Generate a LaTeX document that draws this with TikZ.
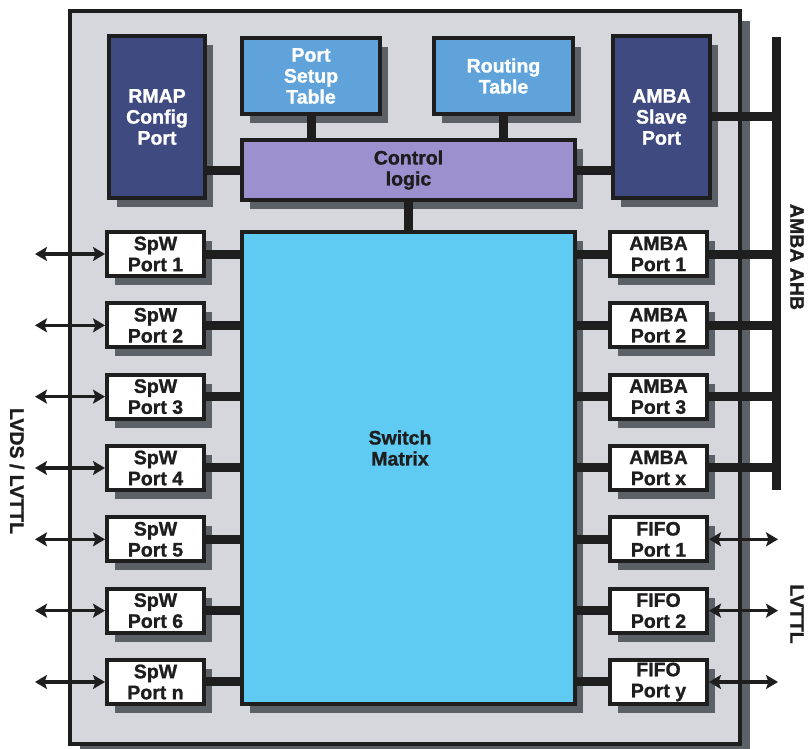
\documentclass[tikz,border=0pt]{standalone}
\usepackage{fontspec}
\setmainfont{Liberation Sans}[BoldFeatures={FakeBold=1.2}]
\usetikzlibrary{arrows.meta,shadows}
\definecolor{chipgray}{HTML}{D5D7DD}
\definecolor{shadegray}{HTML}{5C6168}
\definecolor{navy}{HTML}{3F4A80}
\definecolor{tableblue}{HTML}{5FA3DA}
\definecolor{lavender}{HTML}{9D90CF}
\definecolor{skyblue}{HTML}{5FCBF2}
\definecolor{inkblack}{HTML}{1E1E1E}
\begin{document}
\begin{tikzpicture}[x=1pt, y=-1pt,
  font=\fontsize{19.5}{21}\selectfont\bfseries, text=inkblack,
  blk/.style={draw=inkblack, line width=4pt, align=center, inner sep=0pt},
  shade/.style={drop shadow={shadow xshift=8pt, shadow yshift=-9pt, fill=shadegray, opacity=1}},
  port/.style={blk, shade, fill=white, minimum width=97pt, minimum height=44pt},
  bar/.style={draw=inkblack, line width=9pt},
  sig/.style={draw=inkblack, line width=3.5pt,
    {Stealth[length=12pt,width=14pt,inset=2.5pt]}-{Stealth[length=12pt,width=14pt,inset=2.5pt]}}]
  \useasboundingbox (0,0) rectangle (808,749);
  % chip outline
  \node[blk, fill=chipgray, minimum width=670pt, minimum height=733pt,
    drop shadow={shadow xshift=10pt, shadow yshift=-10pt, fill=shadegray, opacity=1}] (chip) at (405,377.5) {};
  % top row
  \node[blk, shade, fill=navy, text=white, minimum width=96pt, minimum height=162pt] (rmap) at (157,117) {RMAP\\Config\\Port};
  \node[blk, shade, fill=tableblue, text=white, minimum width=138pt, minimum height=76pt] (setup) at (311,76) {Port\\Setup\\Table};
  \node[blk, shade, fill=tableblue, text=white, minimum width=139pt, minimum height=76pt] (routing) at (503.5,76) {Routing\\Table};
  \node[blk, shade, fill=navy, text=white, minimum width=97pt, minimum height=162pt] (slave) at (661.5,117) {AMBA\\Slave\\Port};
  \node[blk, shade, fill=lavender, minimum width=333pt, minimum height=60pt] (ctrl) at (408.5,170) {Control\\logic};
  % switch matrix
  \node[blk, shade, fill=skyblue, minimum width=333pt, minimum height=472pt] (matrix) at (408.5,468) {};
  \node[align=center] (swlabel) at (400,448) {Switch\\Matrix};
  % AMBA AHB bus
  \coordinate (bustop) at (776.5,37);
  \coordinate (busbot) at (776.5,490);
  \draw[bar] (bustop) -- (busbot);
  % internal links
  \draw[bar] (rmap.east |- ctrl.west) -- (ctrl.west);
  \draw[bar] (ctrl.east) -- (slave.west |- ctrl.east);
  \draw[bar] (setup.south) -- (setup.south |- ctrl.north);
  \draw[bar] (routing.south) -- (routing.south |- ctrl.north);
  \draw[bar] (ctrl.south) -- (matrix.north);
  \draw[bar] (slave.east) -- (slave.east -| bustop);
  % SpW ports
  \foreach \i/\n in {1/1,2/2,3/3,4/4,5/5,6/6,7/n} {
    \node[port] (spw\i) at (155.5,{254+71.33*(\i-1)}) {SpW\\Port \n};
    \coordinate (lvds\i) at (35,{254+71.33*(\i-1)});
    \draw[bar] (spw\i.east) -- (spw\i.east -| matrix.west);
    \draw[sig] (lvds\i) -- (spw\i.west);
  }
  % AMBA and FIFO ports
  \foreach \i/\t/\n in {1/AMBA/1,2/AMBA/2,3/AMBA/3,4/AMBA/x} {
    \node[port] (rp\i) at (658.5,{254+71.33*(\i-1)}) {\t\\Port \n};
    \draw[bar] (matrix.east |- rp\i.west) -- (rp\i.west);
    \draw[bar] (rp\i.east) -- (rp\i.east -| bustop);
  }
  \foreach \i/\t/\n in {5/FIFO/1,6/FIFO/2,7/FIFO/y} {
    \node[port] (rp\i) at (658.5,{254+71.33*(\i-1)}) {\t\\Port \n};
    \coordinate (ttl\i) at (778,{254+71.33*(\i-1)});
    \draw[bar] (matrix.east |- rp\i.west) -- (rp\i.west);
    \draw[sig] (rp\i.east) -- (ttl\i);
  }
  % side labels
  \node[rotate=-90] (lvds) at (17,471) {LVDS / LVTTL};
  \node[rotate=-90] (ahb) at (797,257) {AMBA AHB};
  \node[rotate=-90] (lvttl) at (797,614) {LVTTL};
\end{tikzpicture}
\end{document}
